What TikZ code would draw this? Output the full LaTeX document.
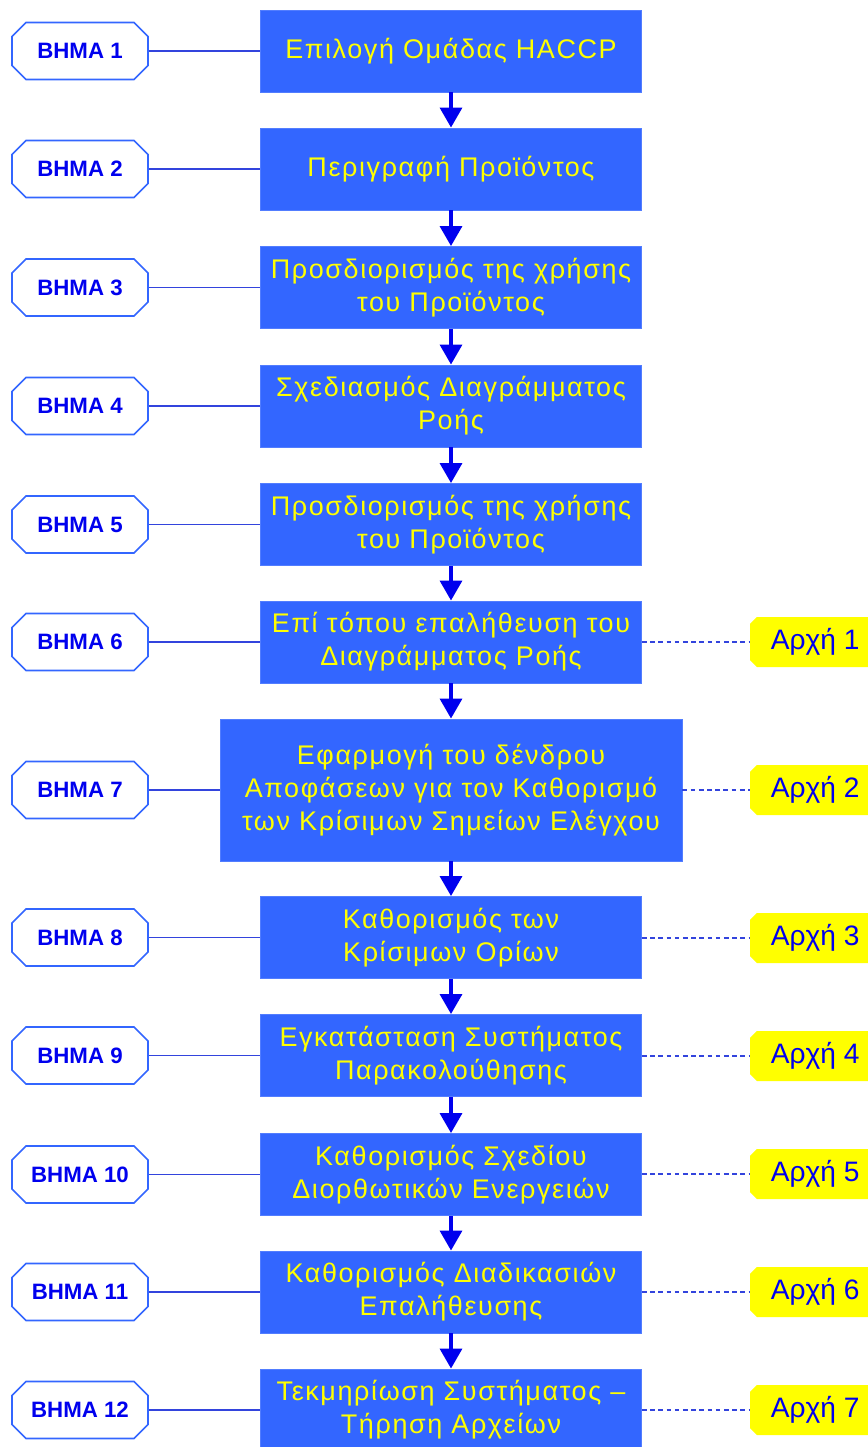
\documentclass[tikz,border=0pt]{standalone}
\usepackage{fontspec}
\setsansfont{Liberation Sans}
\newfontfamily\stepfont[LetterSpace=6]{Liberation Sans}
\usetikzlibrary{arrows.meta, shapes.misc}
\definecolor{cblue}{HTML}{3366FF}
\definecolor{cnavy}{HTML}{0000EE}
\definecolor{cyellow}{HTML}{FFFF00}
\definecolor{cline}{HTML}{3344DD}
\tikzset{
  every picture/.style={font=\sffamily, x=0.03cm, y=-0.03cm},
  stepbox/.style={fill=cblue, draw=cblue!85!white, line width=0.8pt, text=cyellow, align=center,
    inner sep=2pt, minimum width=11.43cm, minimum height=2.46cm, font=\stepfont\fontsize{23}{28.2}\selectfont},
  wide/.style={minimum width=13.86cm, minimum height=4.26cm},
  tagbox/.style={shape=chamfered rectangle, chamfered rectangle xsep=0.2cm, chamfered rectangle ysep=0.22cm,
    draw=cblue, fill=white, line width=1.4pt, text=cnavy, minimum width=4.08cm, minimum height=1.71cm,
    inner sep=2pt, font=\sffamily\bfseries\fontsize{19}{22}\selectfont},
  rulebox/.style={shape=chamfered rectangle, chamfered rectangle xsep=0.1cm, chamfered rectangle ysep=0.1cm,
    fill=cyellow, text=cnavy, minimum width=3.9cm, minimum height=1.5cm, inner sep=2pt,
    font=\sffamily\fontsize{24}{28}\selectfont},
  arrow/.style={-{Triangle[length=0.6cm, width=0.66cm]}, draw=cnavy, line width=3pt},
  link/.style={draw=cline, line width=1.2pt},
  dashlink/.style={draw=cline, line width=1.2pt, dash pattern=on 4pt off 3pt},
}
\begin{document}
\begin{tikzpicture}
  \clip (0,0) rectangle (868,1447);
  \fill[white] (0,0) rectangle (868,1447);
  % the twelve steps and their tags
  \foreach \txt/\y/\i in {{Επιλογή Ομάδας HACCP}/51/1, {Περιγραφή Προϊόντος}/169/2,
      {Προσδιορισμός της χρήσης\\του Προϊόντος}/287.5/3, {Σχεδιασμός Διαγράμματος\\Ροής}/406/4,
      {Προσδιορισμός της χρήσης\\του Προϊόντος}/524.5/5, {Επί τόπου επαλήθευση του\\Διαγράμματος Ροής}/642/6,
      {Καθορισμός των\\Κρίσιμων Ορίων}/937.5/8, {Εγκατάσταση Συστήματος\\Παρακολούθησης}/1055.5/9,
      {Καθορισμός Σχεδίου\\Διορθωτικών Ενεργειών}/1174.5/10, {Καθορισμός Διαδικασιών\\Επαλήθευσης}/1292/11,
      {Τεκμηρίωση Συστήματος –\\Τήρηση Αρχείων}/1410/12} {
    \node[stepbox] (s\i) at (451,\y) {\txt};
  }
  \node[stepbox, wide] (s7) at (451,790) {Εφαρμογή του δένδρου\\Αποφάσεων για τον Καθορισμό\\των Κρίσιμων Σημείων Ελέγχου};
  \foreach \y/\i in {51/1, 169/2, 287.5/3, 406/4, 524.5/5, 642/6, 790/7, 937.5/8, 1055.5/9, 1174.5/10, 1292/11, 1410/12} {
    \node[tagbox] (b\i) at (80,\y) {ΒΗΜΑ \i};
    \draw[link] (b\i.east) -- (s\i.west |- b\i.east);
  }
  % flow between the steps
  \foreach \i [evaluate=\i as \j using int(\i+1)] in {1,...,11} {
    \draw[arrow] (s\i.south) -- (s\j.north);
  }
  % principles
  \foreach \i/\k/\y in {6/1/642, 7/2/790, 8/3/938, 9/4/1056, 10/5/1174, 11/6/1292, 12/7/1410} {
    \node[rulebox, anchor=west] (a\k) at (750,\y) {Αρχή \k};
    \draw[dashlink] (s\i.east |- a\k.west) -- (a\k.west);
  }
\end{tikzpicture}
\end{document}
